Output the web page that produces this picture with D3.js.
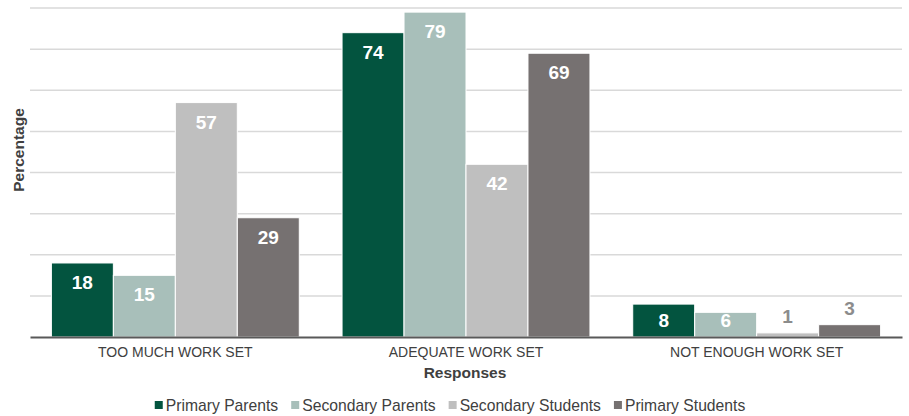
<!DOCTYPE html>
<html>
<head>
<meta charset="utf-8">
<script src="https://cdn.jsdelivr.net/npm/d3@7/dist/d3.min.js"></script>
<style>
  html, body { margin: 0; padding: 0; background: #ffffff; }
  svg { display: block; font-family: "Liberation Sans", Arial, sans-serif; }
</style>
</head>
<body>
<svg id="chart" width="909" height="416"></svg>
<script>
// Survey responses on the amount of work set (percent)
const categories = ["TOO MUCH WORK SET", "ADEQUATE WORK SET", "NOT ENOUGH WORK SET"];
const seriesNames = ["Primary Parents", "Secondary Parents", "Secondary Students", "Primary Students"];
const primaryParents    = [18, 74, 8];
const secondaryParents  = [15, 79, 6];
const secondaryStudents = [57, 42, 1];
const primaryStudents   = [29, 69, 3];
const yTicks = [0, 10, 20, 30, 40, 50, 60, 70, 80];

const seriesValues = [primaryParents, secondaryParents, secondaryStudents, primaryStudents];
const colors = ["#03543f", "#a8bfba", "#bfbfbf", "#767171"];

const svg = d3.select("#chart");
const margin = { left: 30, right: 7, top: 8, bottom: 79 };
const W = 909, H = 416;
const plotBottom = H - margin.bottom;

const x0 = d3.scaleBand().domain(categories).range([margin.left, W - margin.right]).padding(0);
const x1 = d3.scaleBand().domain(seriesNames).range([0, x0.bandwidth()]).paddingInner(0).paddingOuter(0.345);
const y = d3.scaleLinear().domain([0, 80]).range([plotBottom, margin.top]);

// Horizontal gridlines
svg.append("g")
  .selectAll("line")
  .data(yTicks.filter(t => t > 0))
  .join("line")
  .attr("x1", margin.left).attr("x2", W - margin.right)
  .attr("y1", d => y(d)).attr("y2", d => y(d))
  .attr("stroke", "#d9d9d9").attr("stroke-width", 1.5);

// Bars
const rows = [];
categories.forEach((c, ci) => {
  seriesNames.forEach((s, si) => {
    rows.push({ category: c, series: s, value: seriesValues[si][ci], color: colors[si] });
  });
});

svg.append("g")
  .selectAll("rect")
  .data(rows)
  .join("rect")
  .attr("x", d => x0(d.category) + x1(d.series))
  .attr("y", d => y(d.value))
  .attr("width", x1.bandwidth())
  .attr("height", d => y(0) - y(d.value))
  .attr("fill", d => d.color)
  .attr("stroke", "#ffffff")
  .attr("stroke-width", 1);

// Baseline axis
const xAxis = d3.axisBottom(x0).tickSize(0).tickPadding(10);
const axisG = svg.append("g")
  .attr("transform", `translate(0,${plotBottom})`)
  .call(xAxis);
axisG.select(".domain").attr("stroke", "#595959").attr("stroke-width", 2);
axisG.selectAll("text")
  .attr("fill", "#404040")
  .style("font-size", "14px")
  .style("font-family", "'Liberation Sans', Arial, sans-serif");

// Value labels
svg.append("g")
  .selectAll("text")
  .data(rows)
  .join("text")
  .attr("x", d => x0(d.category) + x1(d.series) + x1.bandwidth() / 2)
  .attr("y", d => {
    const inside = y(d.value) + 19;
    if (d.value >= 5) return Math.min(inside, plotBottom - 17) + 7;
    return y(d.value) - 17 + 7;
  })
  .attr("text-anchor", "middle")
  .attr("font-weight", "bold")
  .attr("font-size", 19)
  .attr("fill", d => d.value >= 5 ? "#ffffff" : "#8c8c8c")
  .text(d => d.value);

// Axis titles
svg.append("text")
  .attr("transform", `translate(24,150) rotate(-90)`)
  .attr("text-anchor", "middle")
  .attr("font-weight", "bold")
  .attr("font-size", 15.5)
  .attr("fill", "#404040")
  .text("Percentage");

svg.append("text")
  .attr("x", 465)
  .attr("y", 378)
  .attr("text-anchor", "middle")
  .attr("font-weight", "bold")
  .attr("font-size", 15.5)
  .attr("fill", "#404040")
  .text("Responses");

// Legend
const legend = svg.append("g").attr("transform", "translate(0,411)");
const items = legend.selectAll("g")
  .data(seriesNames)
  .join("g");
items.append("rect")
  .attr("y", -10).attr("width", 8).attr("height", 8)
  .attr("fill", (d, i) => colors[i]);
items.append("text")
  .attr("x", 11)
  .attr("font-size", 15.7)
  .attr("fill", "#404040")
  .text(d => d);
const widths = [];
items.each(function () { widths.push(this.querySelector("text").getComputedTextLength() + 11); });
const gap = 13;
const total = d3.sum(widths) + gap * (widths.length - 1);
let cx = 450 - total / 2;
items.attr("transform", (d, i) => {
  const t = `translate(${cx},0)`;
  cx += widths[i] + gap;
  return t;
});
</script>
</body>
</html>
